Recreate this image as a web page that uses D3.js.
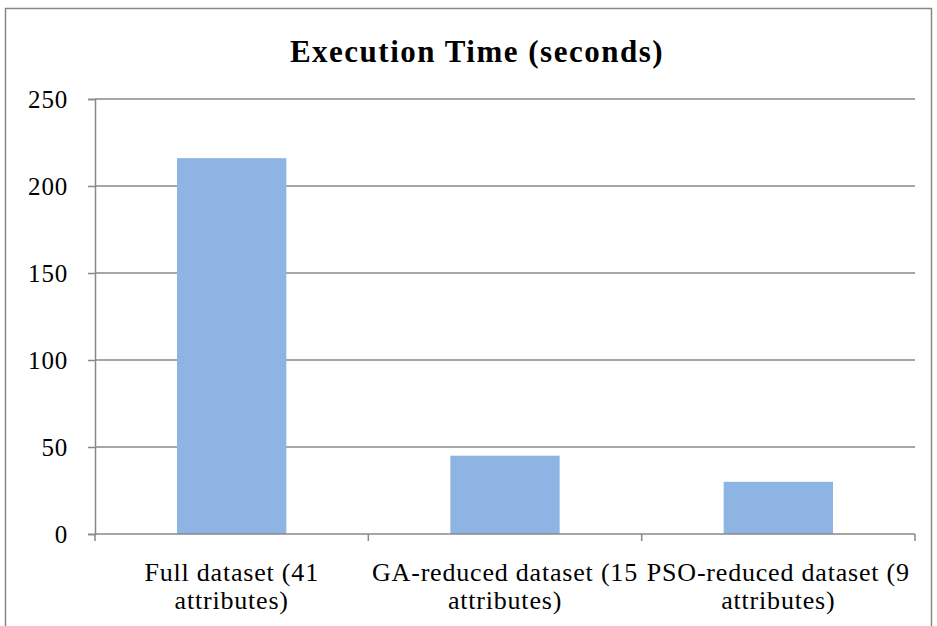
<!DOCTYPE html>
<html>
<head>
<meta charset="utf-8">
<script src="https://cdn.jsdelivr.net/npm/d3@7"></script>
<style>
  html, body { margin: 0; padding: 0; background: #fff; }
  text { font-family: "Liberation Serif", "DejaVu Serif", serif; fill: #000; }
</style>
</head>
<body>
<svg id="chart" width="937" height="626"></svg>
<script>
const title = "Execution Time (seconds)";
const categories = ["Full dataset (41 attributes)", "GA-reduced dataset (15 attributes)", "PSO-reduced dataset (9 attributes)"];
const categoryLines = [["Full dataset (41", "attributes)"], ["GA-reduced dataset (15", "attributes)"], ["PSO-reduced dataset (9", "attributes)"]];
const values = [216, 45, 30];
const yTicks = [0, 50, 100, 150, 200, 250];

const svg = d3.select("#chart");
const W = 937, H = 626;
const m = { left: 95, right: 22, top: 99, bottom: 92 };
const x0 = m.left, x1 = W - m.right, y0 = H - m.bottom, y1 = m.top;

// outer frame
svg.append("rect").attr("x", 5.5).attr("y", 8.5).attr("width", 926).attr("height", 640)
  .attr("fill", "none").attr("stroke", "#878787").attr("stroke-width", 1.5);

const x = d3.scaleBand().domain(categories).range([x0, x1]).paddingInner(0.6).paddingOuter(0.3);
const y = d3.scaleLinear().domain([0, 250]).range([y0, y1]);

// gridlines
svg.append("g").selectAll("line").data(yTicks.filter(d => d > 0)).join("line")
  .attr("x1", x0).attr("x2", x1).attr("y1", d => y(d)).attr("y2", d => y(d))
  .attr("stroke", "#888").attr("stroke-width", 1.5);

// bars
svg.append("g").selectAll("rect").data(values).join("rect")
  .attr("x", (d, i) => x(categories[i]))
  .attr("width", x.bandwidth())
  .attr("y", d => y(d))
  .attr("height", d => y(0) - y(d))
  .attr("fill", "#8EB4E3");

// y axis
const yAxis = svg.append("g").attr("transform", `translate(${x0},0)`)
  .call(d3.axisLeft(y).tickValues(yTicks).tickSize(7).tickPadding(20).tickFormat(d3.format("d")));
yAxis.select(".domain").attr("stroke", "#888").attr("stroke-width", 1.5);
yAxis.selectAll(".tick line").attr("stroke", "#888").attr("stroke-width", 1.5);
yAxis.selectAll(".tick text").attr("font-size", 25).attr("font-family", "Liberation Serif")
  .attr("letter-spacing", 0.8).attr("fill", "#000");

// x axis with boundary ticks
const bounds = [0, 1, 2, 3].map(i => x0 + i * (x1 - x0) / 3);
const xg = svg.append("g");
xg.append("line").attr("x1", x0).attr("x2", x1).attr("y1", y0).attr("y2", y0)
  .attr("stroke", "#888").attr("stroke-width", 1.5);
xg.selectAll("line.tk").data(bounds).join("line").attr("class", "tk")
  .attr("x1", d => d).attr("x2", d => d).attr("y1", y0).attr("y2", y0 + 7)
  .attr("stroke", "#888").attr("stroke-width", 1.5);

// category labels
const lab = svg.append("g").selectAll("text").data(categories).join("text")
  .attr("text-anchor", "middle")
  .attr("font-size", 26)
  .attr("letter-spacing", 0.8)
  .attr("x", d => x(d) + x.bandwidth() / 2)
  .attr("y", y0 + 47);
lab.each(function(d, i) {
  const t = d3.select(this);
  categoryLines[i].forEach((ln, j) => {
    t.append("tspan").attr("x", x(d) + x.bandwidth() / 2).attr("dy", j === 0 ? 0 : 28).text(ln);
  });
});

// title
svg.append("text").attr("x", 477).attr("y", 62).attr("text-anchor", "middle")
  .attr("font-size", 31).attr("font-weight", "bold").attr("letter-spacing", 1.5)
  .text(title);
</script>
</body>
</html>
